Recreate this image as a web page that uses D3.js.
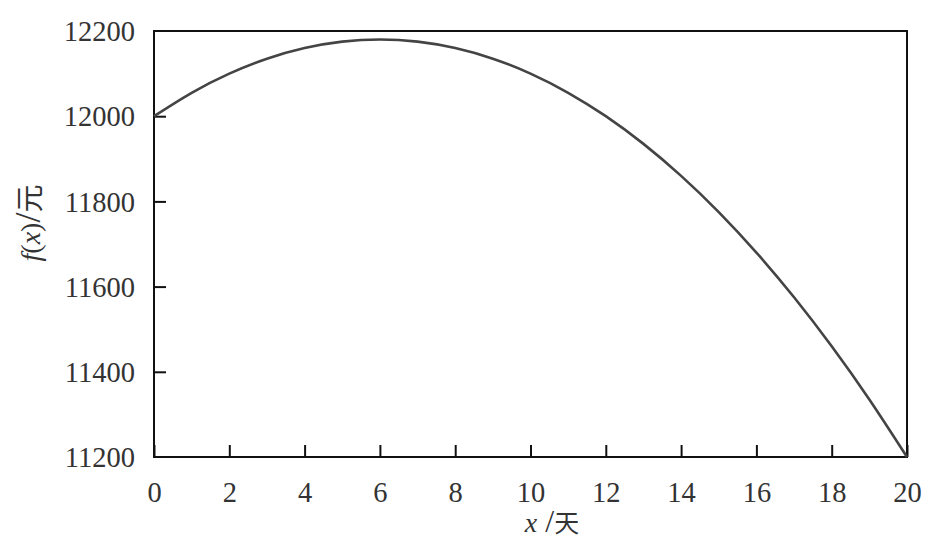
<!DOCTYPE html>
<html lang="zh">
<head>
    <meta charset="UTF-8">
    <title>f(x) curve</title>
    <style type="text/css">
        body { margin: 0; background: #fff; }
        svg { display: block; }
    </style>
</head>
<body>
    <div id="chart"></div>
    <script src="https://cdn.jsdelivr.net/npm/d3@7"></script>
    <script type="text/javascript">
        // days and the value (yuan)
        var days = [0, 1, 2, 3, 4, 5, 6, 7, 8, 9, 10, 11, 12, 13, 14, 15, 16, 17, 18, 19, 20];
        var values = [12000, 12055, 12100, 12135, 12160, 12175, 12180, 12175, 12160, 12135, 12100,
                      12055, 12000, 11935, 11860, 11775, 11680, 11575, 11460, 11335, 11200];
        var xTicks = [0, 2, 4, 6, 8, 10, 12, 14, 16, 18, 20];
        var yTicks = [11200, 11400, 11600, 11800, 12000, 12200];

        var serif = "Liberation Serif";
        var cjk = "Noto Sans CJK SC";
        var width = 929, height = 546;
        var margin = { top: 31, right: 22, bottom: 89, left: 154 };
        var iw = width - margin.left - margin.right;
        var ih = height - margin.top - margin.bottom;

        var svg = d3.select("#chart").append("svg")
            .attr("width", width)
            .attr("height", height);

        var g = svg.append("g").attr("transform", `translate(${margin.left},${margin.top})`);

        var x = d3.scaleLinear().domain([0, 20]).range([0, iw]);
        var y = d3.scaleLinear().domain([11200, 12200]).range([ih, 0]);

        // x axis, ticks pointing inward
        var xa = g.append("g")
            .attr("transform", `translate(0,${ih})`)
            .call(d3.axisBottom(x).tickValues(xTicks).tickFormat(d3.format("d"))
                .tickSizeInner(-12).tickSizeOuter(0).tickPadding(25));
        xa.select(".domain").remove();
        xa.selectAll(".tick text")
            .style("font-family", serif).style("font-size", "28.5px").attr("fill", "#333");
        xa.selectAll(".tick line").attr("stroke", "#111").attr("stroke-width", 2);

        var ya = g.append("g")
            .call(d3.axisLeft(y).tickValues(yTicks).tickFormat(d3.format("d"))
                .tickSizeInner(-12).tickSizeOuter(0).tickPadding(19));
        ya.select(".domain").remove();
        ya.selectAll(".tick text")
            .style("font-family", serif).style("font-size", "28.5px")
            .attr("fill", "#333").attr("dy", "0.34em");
        ya.selectAll(".tick line").attr("stroke", "#111").attr("stroke-width", 2)
            .filter(d => d === 11200 || d === 12200).remove();

        // frame
        g.append("rect")
            .attr("width", iw).attr("height", ih)
            .attr("fill", "none").attr("stroke", "#111").attr("stroke-width", 2);

        var line = d3.line()
            .x((d, i) => x(days[i]))
            .y(d => y(d))
            .curve(d3.curveNatural);

        g.append("path")
            .datum(values)
            .attr("d", line)
            .attr("fill", "none")
            .attr("stroke", "#444")
            .attr("stroke-width", 2.6);

        // axis titles
        var xl = svg.append("text")
            .style("font-family", serif).style("font-size", "28px").attr("fill", "#333")
            .attr("x", 552).attr("y", 532).attr("text-anchor", "middle");
        xl.append("tspan").style("font-style", "italic").text("x");
        xl.append("tspan").style("font-size", "32px").text(" /");
        xl.append("tspan").style("font-family", cjk).style("font-size", "25px").text("天");

        var yl = svg.append("text")
            .style("font-family", serif).style("font-size", "28px").attr("fill", "#333")
            .attr("transform", "translate(40,223) rotate(-90)")
            .attr("text-anchor", "middle");
        yl.append("tspan").style("font-style", "italic").text("f");
        yl.append("tspan").text("(");
        yl.append("tspan").style("font-style", "italic").text("x");
        yl.append("tspan").text(")");
        yl.append("tspan").style("font-size", "36px").text("/");
        yl.append("tspan").style("font-family", cjk).style("font-size", "28px").text("元");
    </script>
</body>
</html>
